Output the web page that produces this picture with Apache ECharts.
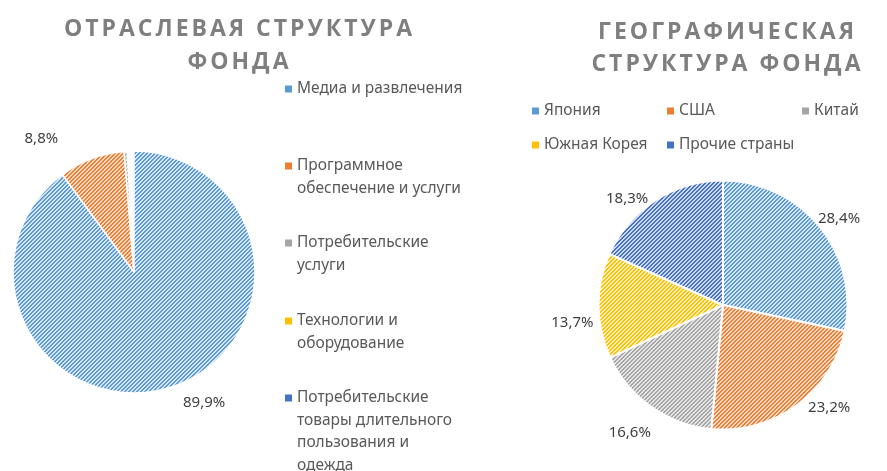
<!DOCTYPE html>
<html><head><meta charset="utf-8">
<script src="https://cdn.jsdelivr.net/npm/echarts@6/dist/echarts.min.js"></script>
<style>html,body{margin:0;padding:0;background:#fff}#c{width:887px;height:471px}</style>
</head><body><div id="c"></div>
<script>
// ---- data ----
const sectorNames = ['Медиа и развлечения', 'Программное обеспечение и услуги', 'Потребительские услуги', 'Технологии и оборудование', 'Потребительские товары длительного пользования и одежда'];
const sectorLegendLines = [
  ['Медиа и развлечения'],
  ['Программное', 'обеспечение и услуги'],
  ['Потребительские', 'услуги'],
  ['Технологии и', 'оборудование'],
  ['Потребительские', 'товары длительного', 'пользования и', 'одежда']
];
const sectorValues = [89.9, 8.8, 0.4, 0.5, 0.4];
const sectorShowLabel = [true, true, false, false, false];

const geoNames = ['Япония', 'США', 'Китай', 'Южная Корея', 'Прочие страны'];
const geoValues = [28.4, 23.2, 16.6, 13.7, 18.3];

const titleLeftLines = ['ОТРАСЛЕВАЯ СТРУКТУРА', 'ФОНДА'];
const titleRightLines = ['ГЕОГРАФИЧЕСКАЯ', 'СТРУКТУРА ФОНДА'];

// ---- styles ----
const baseColors = ['#5B9BD5', '#ED7D31', '#A5A5A5', '#FFC000', '#4472C4'];
const bgColors = ['#d6e6f5', '#fbdcc6', '#e6e6e6', '#fff0c2', '#cfdaf0'];
// label offsets (px) relative to the library's outside position, to mimic Excel placement
const labelOffsets = [
  [[5, 12], [-27, -16], null, null, null],
  [[-10, -5], [4, -1], [7, 23], [4, 17], [0, 2]]
];

function hatch(color, bg) {
  const c = document.createElement('canvas');
  c.width = 4; c.height = 4;
  const g = c.getContext('2d');
  g.fillStyle = bg; g.fillRect(0, 0, 4, 4);
  g.fillStyle = color;
  for (let i = 0; i < 4; i++) {
    g.fillRect(i, 3 - i, 1, 1);
    g.fillRect((i + 1) % 4, 3 - i, 1, 1);
  }
  return c;
}
const patterns = baseColors.map((c, i) => ({ image: hatch(c, bgColors[i]), repeat: 'repeat' }));
const fmtPct = v => v.toFixed(1).replace('.', ',') + '%';
// letter-spaced title via one rich token per character
const spaced = lines => lines.map(l => Array.from(l).map(ch => '{t|' + ch + '}').join('')).join('\n');

const chart = echarts.init(document.getElementById('c'), null, { renderer: 'canvas' });

const tStyle = lh => ({
  rich: { t: { fontFamily: 'Open Sans', fontWeight: 'bold', fontSize: 23, color: '#7f7f7f', lineHeight: lh, padding: [0, 1.5] } }
});

const firstLineY = [86, 163, 240, 318, 395];
const LH = 22.5;
const leftLegends = sectorNames.map((nm, i) => {
  const lines = sectorLegendLines[i];
  const n = lines.length;
  return {
    data: [{ name: nm, itemStyle: { color: baseColors[i], opacity: 1, borderWidth: 0 } }],
    orient: 'vertical',
    left: 285,
    top: firstLineY[i] - LH / 2 - (n - 1) * LH + 3,
    padding: 0,
    itemWidth: 7, itemHeight: 7,
    icon: 'rect',
    selectedMode: false,
    textStyle: { fontFamily: 'Noto Sans', fontSize: 15.5, color: '#595959', lineHeight: LH },
    formatter: () => new Array(n - 1).fill('').concat(lines).join('\n')
  };
});

const labelBase = {
  position: 'outside',
  fontFamily: 'Noto Sans', fontSize: 15, color: '#404040',
  formatter: p => fmtPct(p.value)
};

const option = {
  backgroundColor: '#ffffff',
  animation: false,
  title: [
    { text: spaced(titleLeftLines), left: 238, top: 13, padding: 0, textAlign: 'center', textStyle: tStyle(33) },
    { text: spaced(titleRightLines), left: 726, top: 17, padding: 0, textAlign: 'center', textStyle: tStyle(31.5) }
  ],
  legend: leftLegends.concat([{
    data: geoNames.map((nm, i) => ({ name: nm, itemStyle: { color: baseColors[i], borderWidth: 0 } })),
    left: 532, top: 100, width: 400, padding: 0,
    orient: 'horizontal',
    itemWidth: 7, itemHeight: 7, itemGap: 12,
    icon: 'rect',
    selectedMode: false,
    textStyle: { fontFamily: 'Noto Sans', fontSize: 15.5, color: '#595959', width: 111, lineHeight: 22 }
  }]),
  series: [
    {
      type: 'pie',
      center: [134, 272],
      radius: [0, 121],
      startAngle: 90,
      clockwise: true,
      avoidLabelOverlap: false,
      itemStyle: { borderColor: '#ffffff', borderWidth: 1.5 },
      label: labelBase,
      labelLine: { show: false, length: 4, length2: 0 },
      labelLayout: p => { const o = labelOffsets[0][p.dataIndex]; return o ? { dx: o[0], dy: o[1] } : {}; },
      data: sectorNames.map((nm, i) => ({
        name: nm, value: sectorValues[i],
        itemStyle: { color: patterns[i], opacity: i >= 3 ? 0 : 1 },
        label: { show: sectorShowLabel[i] }
      })),
      emphasis: { disabled: true }
    },
    {
      type: 'pie',
      center: [723, 305],
      radius: [0, 124.5],
      startAngle: 90,
      clockwise: true,
      avoidLabelOverlap: false,
      itemStyle: { borderColor: '#ffffff', borderWidth: 2 },
      label: labelBase,
      labelLine: { show: false, length: 4, length2: 0 },
      labelLayout: p => { const o = labelOffsets[1][p.dataIndex]; return o ? { dx: o[0], dy: o[1] } : {}; },
      data: geoNames.map((nm, i) => ({
        name: nm, value: geoValues[i],
        itemStyle: { color: patterns[i] }
      })),
      emphasis: { disabled: true }
    }
  ]
};
chart.setOption(option);
</script>
</body></html>
